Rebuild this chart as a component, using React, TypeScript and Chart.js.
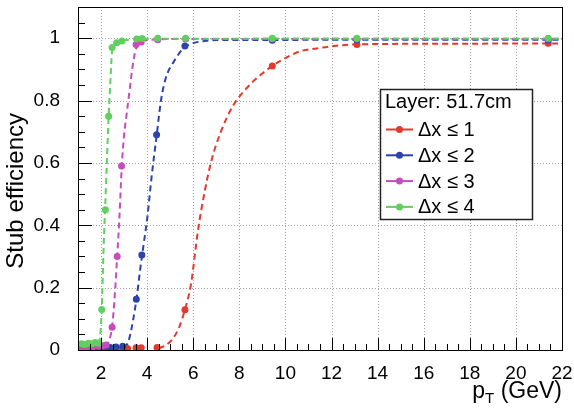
import React, { useEffect, useRef } from 'react';
import { Chart, registerables } from 'chart.js';

Chart.register(...registerables);

// ---------- axes ----------
const X_MIN = 1;
const X_MAX = 22;
const Y_MIN = 0;
const Y_MAX = 1.1;
const X_TICKS = [2, 4, 6, 8, 10, 12, 14, 16, 18, 20, 22];
const Y_TICKS = [0, 0.2, 0.4, 0.6, 0.8, 1];

// ---------- text ----------
const X_TITLE_MAIN = 'p';
const X_TITLE_SUB = 'T';
const X_TITLE_REST = ' (GeV)';
const Y_TITLE = 'Stub efficiency';
const LEGEND_HEADER = 'Layer: 51.7cm';
const SERIES_LABELS = ['Δx ≤ 1', 'Δx ≤ 2', 'Δx ≤ 3', 'Δx ≤ 4'];
const SERIES_COLORS = ['#e3392e', '#2c43a8', '#c64cbe', '#60cf60'];

// ---------- measured points ----------
const RED_X = [1.15, 1.4, 1.65, 1.9, 2.15, 2.4, 2.65, 2.9, 3.15, 3.52, 3.74, 4.43, 5.64, 9.43, 13.1, 21.4];
const RED_Y = [0.002, 0.002, 0.002, 0.003, 0.003, 0.003, 0.004, 0.004, 0.005, 0.007, 0.007, 0.008, 0.129, 0.911, 0.98, 0.984];

const BLUE_X = [1.15, 1.4, 1.65, 1.9, 2.15, 2.4, 2.65, 2.94, 3.53, 3.77, 4.41, 5.64, 9.43, 13.1, 21.4];
const BLUE_Y = [0.004, 0.004, 0.005, 0.005, 0.006, 0.008, 0.01, 0.012, 0.163, 0.305, 0.69, 0.975, 0.993, 0.994, 0.994];

const MAGENTA_X = [1.15, 1.4, 1.65, 1.9, 2.07, 2.22, 2.48, 2.7, 2.89, 3.52, 3.74, 4.46, 5.67, 9.43, 13.1, 21.4];
const MAGENTA_Y = [0.008, 0.009, 0.01, 0.012, 0.014, 0.016, 0.073, 0.3, 0.59, 0.98, 0.988, 0.995, 0.997, 0.997, 0.997, 0.997];

const GREEN_X = [1.15, 1.3, 1.45, 1.6, 1.75, 1.9, 2.03, 2.19, 2.33, 2.48, 2.68, 2.91, 3.55, 3.78, 4.46, 5.67, 9.43, 13.1, 21.4];
const GREEN_Y = [0.02, 0.018, 0.022, 0.02, 0.024, 0.022, 0.13, 0.45, 0.75, 0.97, 0.985, 0.991, 0.997, 0.999, 1.0, 1.0, 1.0, 1.0, 1.0];

// ---------- fitted curves ----------
const RED_FIT_X = [4.5, 4.8, 5.1, 5.4, 5.64, 5.9, 6.2, 6.5, 6.8, 7.2, 7.7, 8.2, 8.7, 9.43, 9.9, 10.6, 11.35, 12.1, 13.1, 16, 22];
const RED_FIT_Y = [0.005, 0.015, 0.035, 0.075, 0.13, 0.21, 0.38, 0.51, 0.61, 0.7, 0.78, 0.83, 0.868, 0.911, 0.932, 0.957, 0.967, 0.975, 0.98, 0.982, 0.983];

const BLUE_FIT_X = [3.0, 3.2, 3.4, 3.55, 3.7, 3.85, 4.0, 4.2, 4.4, 4.6, 4.8, 5.2, 5.6, 6.0, 6.5, 7.0, 22];
const BLUE_FIT_Y = [0.005, 0.03, 0.1, 0.17, 0.26, 0.34, 0.42, 0.56, 0.68, 0.8, 0.87, 0.93, 0.97, 0.984, 0.991, 0.994, 0.995];

const MAGENTA_FIT_X = [2.2, 2.35, 2.48, 2.6, 2.7, 2.8, 2.9, 3.0, 3.1, 3.25, 3.37, 3.5, 3.75, 4.2, 5.0, 22];
const MAGENTA_FIT_Y = [0.01, 0.03, 0.075, 0.18, 0.3, 0.43, 0.59, 0.69, 0.75, 0.84, 0.91, 0.962, 0.988, 0.995, 0.997, 0.997];

const GREEN_FIT_X = [1.9, 1.97, 2.03, 2.08, 2.13, 2.18, 2.25, 2.33, 2.39, 2.43, 2.48, 2.6, 2.8, 3.2, 4.0, 22];
const GREEN_FIT_Y = [0.02, 0.05, 0.13, 0.25, 0.37, 0.46, 0.6, 0.75, 0.84, 0.9, 0.96, 0.982, 0.99, 0.995, 0.998, 0.999];

const POINTS_X = [RED_X, BLUE_X, MAGENTA_X, GREEN_X];
const POINTS_Y = [RED_Y, BLUE_Y, MAGENTA_Y, GREEN_Y];
const FITS_X = [RED_FIT_X, BLUE_FIT_X, MAGENTA_FIT_X, GREEN_FIT_X];
const FITS_Y = [RED_FIT_Y, BLUE_FIT_Y, MAGENTA_FIT_Y, GREEN_FIT_Y];

const FONT = "'Liberation Sans', Arial, Helvetica, sans-serif";

const rootStylePlugin = {
  id: 'rootStyle',
  beforeDatasetsDraw(chart: any) {
    const { ctx, chartArea: a, scales } = chart;
    const x = scales.x;
    const y = scales.y;
    ctx.save();
    ctx.strokeStyle = '#a0a0a0';
    ctx.lineWidth = 1;
    ctx.setLineDash([1, 2]);
    for (const v of X_TICKS) {
      if (v >= X_MAX) continue;
      const px = Math.round(x.getPixelForValue(v)) + 0.5;
      ctx.beginPath();
      ctx.moveTo(px, a.top);
      ctx.lineTo(px, a.bottom);
      ctx.stroke();
    }
    for (const v of Y_TICKS) {
      if (v <= Y_MIN) continue;
      const py = Math.round(y.getPixelForValue(v)) + 0.5;
      ctx.beginPath();
      ctx.moveTo(a.left, py);
      ctx.lineTo(a.right, py);
      ctx.stroke();
    }
    ctx.restore();
  },
  afterDatasetsDraw(chart: any) {
    const { ctx, chartArea: a, scales } = chart;
    const x = scales.x;
    const y = scales.y;
    ctx.save();
    ctx.setLineDash([]);
    ctx.strokeStyle = '#000';
    ctx.lineWidth = 1;
    // frame
    ctx.strokeRect(Math.round(a.left) + 0.5, Math.round(a.top) + 0.5, Math.round(a.right - a.left), Math.round(a.bottom - a.top));
    // x ticks (inside)
    for (let i = 2; i <= 44; i++) {
      const v = i / 2;
      const px = Math.round(x.getPixelForValue(v)) + 0.5;
      const len = i % 4 === 0 ? 12 : 6;
      ctx.beginPath();
      ctx.moveTo(px, a.bottom);
      ctx.lineTo(px, a.bottom - len);
      ctx.stroke();
    }
    // y ticks (inside)
    for (let i = 0; i <= 22; i++) {
      const v = i * 0.05;
      const py = Math.round(y.getPixelForValue(v)) + 0.5;
      const len = i % 4 === 0 ? 14 : 7;
      ctx.beginPath();
      ctx.moveTo(a.left, py);
      ctx.lineTo(a.left + len, py);
      ctx.stroke();
    }

    // legend box
    const lx = 380, ly = 89, lw = 152, lh = 130;
    ctx.fillStyle = '#fff';
    ctx.fillRect(lx, ly, lw, lh);
    ctx.strokeStyle = '#222';
    ctx.lineWidth = 1.5;
    ctx.strokeRect(lx + 0.5, ly + 0.5, lw, lh);
    ctx.fillStyle = '#000';
    ctx.font = `20px ${FONT}`;
    ctx.textAlign = 'left';
    ctx.textBaseline = 'alphabetic';
    ctx.fillText(LEGEND_HEADER, 385, 108);
    for (let i = 0; i < SERIES_LABELS.length; i++) {
      const cy = 129.5 + i * 25.8;
      ctx.strokeStyle = SERIES_COLORS[i];
      ctx.lineWidth = 2;
      ctx.beginPath();
      ctx.moveTo(386, cy);
      ctx.lineTo(413, cy);
      ctx.stroke();
      ctx.fillStyle = SERIES_COLORS[i];
      ctx.beginPath();
      ctx.arc(399.5, cy, 3.5, 0, Math.PI * 2);
      ctx.fill();
      ctx.fillStyle = '#000';
      ctx.font = `20px ${FONT}`;
      ctx.textBaseline = 'middle';
      ctx.fillText(SERIES_LABELS[i], 418, cy + 1);
    }

    // x title
    ctx.fillStyle = '#000';
    ctx.textBaseline = 'alphabetic';
    ctx.font = `23px ${FONT}`;
    const wP = ctx.measureText(X_TITLE_MAIN).width;
    const wRest = ctx.measureText(X_TITLE_REST).width;
    ctx.font = `15px ${FONT}`;
    const wT = ctx.measureText(X_TITLE_SUB).width;
    let sx = a.right - (wP + wT + wRest);
    const base = 398;
    ctx.font = `23px ${FONT}`;
    ctx.fillText(X_TITLE_MAIN, sx, base);
    sx += wP;
    ctx.font = `15px ${FONT}`;
    ctx.fillText(X_TITLE_SUB, sx, base + 5);
    sx += wT;
    ctx.font = `23px ${FONT}`;
    ctx.fillText(X_TITLE_REST, sx, base);

    // y title
    ctx.save();
    ctx.translate(23, 113);
    ctx.rotate(-Math.PI / 2);
    ctx.font = `24px ${FONT}`;
    ctx.textAlign = 'right';
    ctx.textBaseline = 'alphabetic';
    ctx.fillText(Y_TITLE, 0, 0);
    ctx.restore();

    ctx.restore();
  },
};

export default function App() {
  const canvasRef = useRef<HTMLCanvasElement | null>(null);

  useEffect(() => {
    document.body.style.margin = '0';
    const canvas = canvasRef.current;
    if (!canvas) return;

    const datasets: any[] = [];
    for (let i = 0; i < 4; i++) {
      datasets.push({
        label: SERIES_LABELS[i],
        data: POINTS_X[i].map((vx, j) => ({ x: vx, y: POINTS_Y[i][j] })),
        showLine: false,
        pointRadius: 3.5,
        pointBackgroundColor: SERIES_COLORS[i],
        pointBorderWidth: 0,
        borderColor: SERIES_COLORS[i],
        order: 4 - i,
      });
    }
    for (let i = 0; i < 4; i++) {
      datasets.push({
        label: SERIES_LABELS[i] + ' fit',
        data: FITS_X[i].map((vx, j) => ({ x: vx, y: FITS_Y[i][j] })),
        showLine: true,
        borderColor: SERIES_COLORS[i],
        borderWidth: 2,
        borderDash: [6, 4],
        pointRadius: 0,
        cubicInterpolationMode: 'monotone',
        order: 10 - i,
      });
    }

    const tickFont = { family: FONT, size: 19 };

    const chart = new Chart(canvas, {
      type: 'scatter',
      data: { datasets },
      options: {
        animation: false,
        responsive: false,
        devicePixelRatio: 1,
        events: [],
        layout: { padding: { top: 7, right: 12, left: 0, bottom: 0 } },
        plugins: {
          legend: { display: false },
          tooltip: { enabled: false },
        },
        scales: {
          x: {
            type: 'linear',
            min: X_MIN,
            max: X_MAX,
            afterBuildTicks: (s: any) => {
              s.ticks = X_TICKS.map((v) => ({ value: v }));
            },
            afterFit: (s: any) => {
              s.height = 63;
              s.paddingLeft = 0;
              s.paddingRight = 0;
            },
            grid: { display: false },
            border: { display: false },
            ticks: {
              font: tickFont,
              color: '#000',
              padding: 4,
              maxRotation: 0,
              autoSkip: false,
              callback: (v: any) => String(v),
            },
          },
          y: {
            type: 'linear',
            min: Y_MIN,
            max: Y_MAX,
            afterBuildTicks: (s: any) => {
              s.ticks = Y_TICKS.map((v) => ({ value: v }));
            },
            afterFit: (s: any) => {
              s.width = 78;
              s.paddingTop = 0;
              s.paddingBottom = 0;
            },
            grid: { display: false },
            border: { display: false },
            ticks: {
              font: tickFont,
              color: '#000',
              padding: 10,
              autoSkip: false,
              callback: (v: any) => String(v),
            },
          },
        },
      },
      plugins: [rootStylePlugin],
    } as any);

    return () => chart.destroy();
  }, []);

  return (
    <div style={{ width: 574, height: 413 }}>
      <canvas ref={canvasRef} width={574} height={413} style={{ display: 'block' }} />
    </div>
  );
}
